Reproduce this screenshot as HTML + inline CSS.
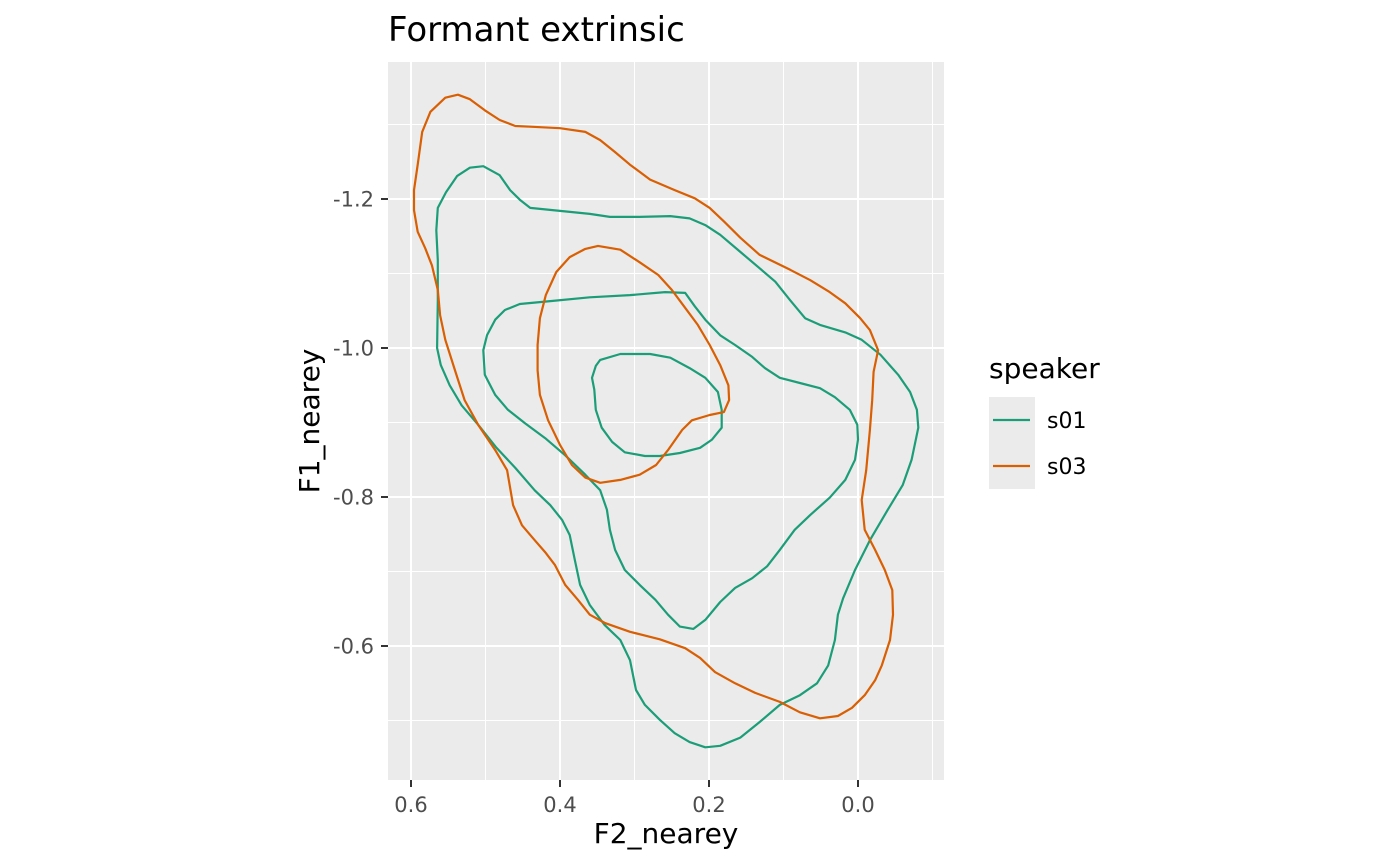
<!DOCTYPE html>
<html><head><meta charset="utf-8"><style>
body{margin:0;background:#fff;}
svg{display:block;font-family:"DejaVu Sans","Liberation Sans",sans-serif;}
</style></head><body>
<svg id="chart" width="1400" height="866" viewBox="0 0 1400 866" xmlns="http://www.w3.org/2000/svg">
<rect x="0" y="0" width="1400" height="866" fill="#fff"/>
<rect x="388" y="62" width="556" height="718" fill="#EBEBEB"/>
<g id="grid"></g>
<g id="marks"></g>
<g id="axes"></g>
<text x="388" y="41" font-size="34" fill="#000">Formant extrinsic</text>
<text x="666" y="843" font-size="28" text-anchor="middle" fill="#000">F2_nearey</text>
<text transform="translate(319,421) rotate(-90)" font-size="28" text-anchor="middle" fill="#000">F1_nearey</text>
<g>
<text x="989" y="378" font-size="28" fill="#000">speaker</text>
<rect x="989" y="397" width="46" height="92" fill="#EBEBEB"/>
<g>
<line x1="993" y1="420" x2="1030" y2="420" stroke="#1B9E77" stroke-width="2.2"/>
<text x="1047" y="428" font-size="22" fill="#000">s01</text></g>
<g>
<line x1="993" y1="466" x2="1030" y2="466" stroke="#D95F02" stroke-width="2.2"/>
<text x="1047" y="474" font-size="22" fill="#000">s03</text></g>
</g>
</svg>
<script>
const xTicks=[0.6,0.4,0.2,0.0];
const xTickLabels=["0.6","0.4","0.2","0.0"];
const xMinor=[0.5,0.3,0.1,-0.1];
const yTicks=[-1.2,-1.0,-0.8,-0.6];
const yTickLabels=["-1.2","-1.0","-0.8","-0.6"];
const yMinor=[-1.3,-1.1,-0.9,-0.7,-0.5];
const s01OuterX=[0.503,0.521,0.538,0.553,0.564,0.566,0.564,0.564,0.565,0.560,0.548,0.532,0.510,0.486,0.460,0.434,0.413,0.397,0.387,0.380,0.373,0.360,0.340,0.319,0.306,0.298,0.286,0.266,0.246,0.226,0.205,0.185,0.158,0.132,0.105,0.078,0.055,0.040,0.031,0.027,0.020,0.004,-0.016,-0.040,-0.060,-0.072,-0.081,-0.079,-0.070,-0.054,-0.030,-0.005,0.017,0.051,0.071,0.091,0.111,0.132,0.158,0.185,0.205,0.226,0.252,0.293,0.333,0.360,0.400,0.440,0.454,0.467,0.481];
const s01OuterY=[-1.244,-1.242,-1.231,-1.209,-1.188,-1.158,-1.118,-1.064,-1.000,-0.977,-0.950,-0.923,-0.897,-0.867,-0.839,-0.809,-0.789,-0.769,-0.749,-0.715,-0.682,-0.655,-0.628,-0.608,-0.581,-0.541,-0.521,-0.501,-0.483,-0.471,-0.464,-0.466,-0.477,-0.498,-0.521,-0.534,-0.550,-0.574,-0.608,-0.642,-0.664,-0.702,-0.742,-0.783,-0.816,-0.850,-0.893,-0.917,-0.941,-0.964,-0.991,-1.011,-1.021,-1.031,-1.040,-1.064,-1.089,-1.107,-1.129,-1.152,-1.165,-1.174,-1.177,-1.176,-1.176,-1.180,-1.184,-1.188,-1.199,-1.212,-1.232];
const s01MidX=[0.232,0.259,0.306,0.360,0.413,0.454,0.474,0.487,0.498,0.503,0.501,0.487,0.470,0.447,0.420,0.393,0.366,0.346,0.337,0.333,0.326,0.313,0.293,0.272,0.255,0.239,0.221,0.205,0.185,0.165,0.142,0.122,0.105,0.085,0.064,0.038,0.017,0.004,0.000,0.001,0.011,0.031,0.051,0.078,0.105,0.125,0.142,0.165,0.185,0.205,0.219];
const s01MidY=[-1.074,-1.075,-1.071,-1.068,-1.063,-1.059,-1.051,-1.038,-1.017,-0.997,-0.964,-0.937,-0.917,-0.899,-0.879,-0.856,-0.830,-0.809,-0.783,-0.756,-0.729,-0.702,-0.682,-0.662,-0.642,-0.626,-0.623,-0.635,-0.659,-0.678,-0.691,-0.707,-0.729,-0.756,-0.776,-0.799,-0.823,-0.850,-0.877,-0.897,-0.917,-0.934,-0.946,-0.953,-0.960,-0.973,-0.988,-1.004,-1.017,-1.038,-1.056];
const s01InnerX=[0.346,0.319,0.279,0.252,0.226,0.205,0.188,0.183,0.183,0.196,0.212,0.239,0.266,0.286,0.313,0.330,0.344,0.352,0.354,0.357,0.352];
const s01InnerY=[-0.984,-0.992,-0.992,-0.987,-0.973,-0.960,-0.941,-0.917,-0.893,-0.877,-0.866,-0.859,-0.855,-0.855,-0.860,-0.874,-0.893,-0.917,-0.944,-0.960,-0.976];
const s03OuterX=[0.537,0.521,0.501,0.481,0.460,0.440,0.400,0.366,0.346,0.326,0.306,0.279,0.246,0.219,0.199,0.179,0.158,0.132,0.091,0.064,0.038,0.017,-0.003,-0.016,-0.027,-0.021,-0.019,-0.016,-0.011,-0.005,-0.009,-0.023,-0.036,-0.046,-0.047,-0.043,-0.032,-0.023,-0.009,0.008,0.027,0.051,0.078,0.105,0.138,0.165,0.192,0.212,0.232,0.266,0.306,0.340,0.360,0.376,0.393,0.407,0.420,0.434,0.451,0.463,0.471,0.487,0.510,0.528,0.541,0.554,0.561,0.564,0.572,0.581,0.591,0.596,0.596,0.591,0.585,0.574,0.554];
const s03OuterY=[-1.340,-1.334,-1.319,-1.306,-1.298,-1.297,-1.295,-1.290,-1.279,-1.263,-1.246,-1.226,-1.212,-1.201,-1.188,-1.169,-1.148,-1.125,-1.105,-1.091,-1.075,-1.060,-1.040,-1.024,-0.997,-0.968,-0.930,-0.890,-0.836,-0.796,-0.756,-0.729,-0.702,-0.675,-0.642,-0.608,-0.574,-0.554,-0.534,-0.517,-0.506,-0.503,-0.511,-0.525,-0.537,-0.550,-0.565,-0.584,-0.597,-0.609,-0.619,-0.631,-0.642,-0.662,-0.682,-0.709,-0.726,-0.742,-0.762,-0.789,-0.836,-0.863,-0.897,-0.930,-0.970,-1.011,-1.044,-1.078,-1.111,-1.134,-1.156,-1.185,-1.212,-1.246,-1.290,-1.317,-1.336];
const s03InnerX=[0.349,0.319,0.293,0.268,0.250,0.235,0.215,0.199,0.185,0.174,0.173,0.180,0.199,0.223,0.236,0.255,0.271,0.293,0.319,0.346,0.366,0.384,0.400,0.416,0.427,0.430,0.430,0.427,0.419,0.405,0.387,0.366];
const s03InnerY=[-1.137,-1.132,-1.115,-1.098,-1.078,-1.058,-1.031,-1.004,-0.977,-0.950,-0.930,-0.914,-0.910,-0.903,-0.890,-0.863,-0.843,-0.830,-0.823,-0.819,-0.826,-0.843,-0.870,-0.903,-0.937,-0.970,-1.004,-1.040,-1.071,-1.102,-1.122,-1.133];

const NS="http://www.w3.org/2000/svg";
function xScale(v){return 858-v*745;}
function yScale(v){return 348+(v+1)*745;}
const grid=document.getElementById('grid');
const marks=document.getElementById('marks');
const axes=document.getElementById('axes');
function mk(tag,attrs,parent){const e=document.createElementNS(NS,tag);for(const k in attrs)e.setAttribute(k,attrs[k]);parent.appendChild(e);return e;}
xMinor.forEach(v=>{const l=mk('line',{x1:xScale(v),x2:xScale(v),y1:62,y2:780,stroke:'#fff','stroke-width':1},grid);

});
yMinor.forEach(v=>{const l=mk('line',{x1:388,x2:944,y1:yScale(v),y2:yScale(v),stroke:'#fff','stroke-width':1},grid);

});
xTicks.forEach((v,i)=>{const x=xScale(v);
const l=mk('line',{x1:x,x2:x,y1:62,y2:780,stroke:'#fff','stroke-width':2},grid);


const t=mk('line',{x1:x,x2:x,y1:780,y2:787,stroke:'#333','stroke-width':2},axes);


const tx=mk('text',{x:x,y:812,'font-size':21,'text-anchor':'middle',fill:'#4D4D4D'},axes);tx.textContent=xTickLabels[i];

});
yTicks.forEach((v,i)=>{const y=yScale(v);
const l=mk('line',{x1:388,x2:944,y1:y,y2:y,stroke:'#fff','stroke-width':2},grid);


const t=mk('line',{x1:381,x2:388,y1:y,y2:y,stroke:'#333','stroke-width':2},axes);


const tx=mk('text',{x:374,y:y+7.5,'font-size':21,'text-anchor':'end',fill:'#4D4D4D'},axes);tx.textContent=yTickLabels[i];

});
function contour(xs,ys,color,name){
let d='';for(let i=0;i<xs.length;i++){d+=(i?'L':'M')+xScale(xs[i]).toFixed(1)+','+yScale(ys[i]).toFixed(1);}d+='Z';
const p=mk('path',{d:d,fill:'none',stroke:color,'stroke-width':2.2,'stroke-linejoin':'round'},marks);

}
contour(s01OuterX,s01OuterY,'#1B9E77','s01-contour-outer');
contour(s01MidX,s01MidY,'#1B9E77','s01-contour-middle');
contour(s01InnerX,s01InnerY,'#1B9E77','s01-contour-inner');
contour(s03OuterX,s03OuterY,'#D95F02','s03-contour-outer');
contour(s03InnerX,s03InnerY,'#D95F02','s03-contour-inner');
</script>
</body></html>
